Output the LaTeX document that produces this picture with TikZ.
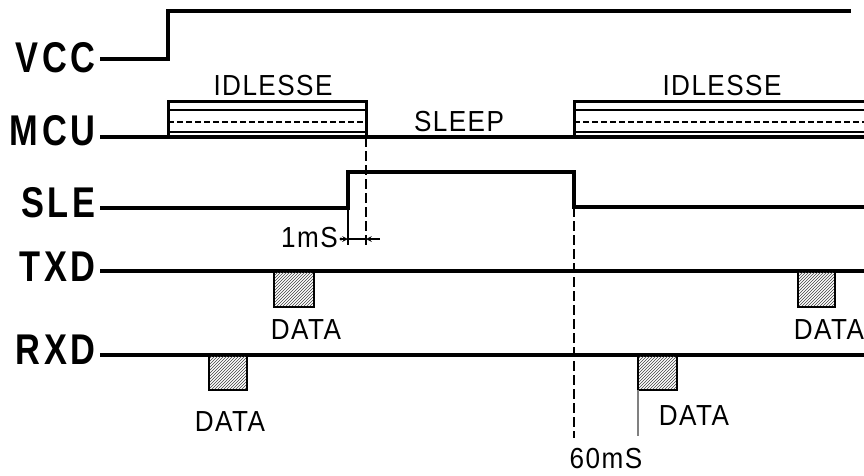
\documentclass[tikz,border=0pt]{standalone}
\usepackage{fontspec}
\setmainfont{Liberation Sans}
\newfontfamily\lblfont[FakeStretch=0.8,LetterSpace=9]{Liberation Sans}
\newfontfamily\txtfont[FakeStretch=0.9,LetterSpace=5]{Liberation Sans}
\usetikzlibrary{arrows,calc,patterns,positioning}
\tikzset{
    signame/.style={anchor=east,inner ysep=0pt,inner xsep=4pt,font=\lblfont\bfseries\fontsize{43}{43}\selectfont},
    txt/.style={inner sep=0pt,font=\txtfont\fontsize{29}{29}\selectfont},
    sig/.style={line width=3.2pt,line join=miter},
    idlebox/.style={line width=3pt},
    inner/.style={line width=1.5pt},
    databox/.style={line width=2.8pt,pattern=north east lines,pattern color=black!75},
    timemark/.style={line width=1.4pt,dash pattern=on 10pt off 4pt}
}

\begin{document}
\begin{tikzpicture}[x=1pt,y=-1pt]
    \useasboundingbox (0,0) rectangle (864,475);

    % signal names
    \node[signame] (vcc) at (100,58) {VCC};
    \node[signame] (mcu) at (100,131) {MCU};
    \node[signame] (sle) at (100,203) {SLE};
    \node[signame] (txd) at (100,267) {TXD};
    \node[signame] (rxd) at (100,350) {RXD};

    % VCC
    \coordinate (vccup) at (168,59);
    \draw[sig] (vcc.east |- vccup) -- (vccup) -- (168,11) -- (851,11);

    % MCU
    \coordinate (mcuA) at (168,137);
    \coordinate (mcuB) at (366,137);
    \coordinate (mcuC) at (574,137);
    \draw[sig] (mcu.east |- mcuA) -- (mcuA) -- (870,137);
    \draw[idlebox] (mcuA) rectangle (366,101);
    \draw[idlebox] (mcuC) -- (574,101) -- (870,101);
    \foreach \xa/\xb in {168/366, 574/870} {
        \draw[inner] (\xa,110) -- (\xb,110);
        \draw[inner] (\xa,132) -- (\xb,132);
        \draw[inner,dash pattern=on 6pt off 3pt] (\xa,122) -- (\xb,122);
    }
    \node[txt] (idle1) at (273,86) {IDLESSE};
    \node[txt] (sleep) at (459,122) {SLEEP};
    \node[txt] (idle2) at (722,86) {IDLESSE};

    % SLE
    \coordinate (sleup) at (348,208);
    \coordinate (sledn) at (574,172);
    \draw[sig] (sle.east |- sleup) -- (sleup) -- (348,172) -- (sledn) -- (574,207) -- (870,207);

    % 1mS delay
    \draw[timemark] (mcuB) -- (366,245);
    \draw[inner] (sleup) -- (348,245);
    \node[txt,anchor=east] (onems) at (338,238) {1mS};
    \fill (onems.east) ++(3,1) circle [radius=1.6pt];
    \draw[inner,-stealth] (onems.east) ++(3,1) -- (348,239);
    \draw[inner] (348,239) -- (366,239);
    \draw[inner,stealth-] (366,239) -- (380,239);

    % TXD
    \draw[sig] (txd.east |- 0,271) -- (870,271);
    \draw[databox] (274,271) rectangle (314,307);
    \draw[databox] (798,271) rectangle (835,307);
    \node[txt] (tdata1) at (306,330) {DATA};
    \node[txt] (tdata2) at (829,330) {DATA};

    % RXD
    \draw[sig] (rxd.east |- 0,355) -- (870,355);
    \draw[databox] (209,355) rectangle (247,390);
    \draw[databox] (638,355) rectangle (677,390);
    \node[txt] (rdata1) at (230,422) {DATA};
    \node[txt] (rdata2) at (694,416) {DATA};
    \draw[inner,gray] (638,390) -- (638,436);

    % 60mS
    \draw[timemark] (574,207) -- (574,438);
    \node[txt] (sixty) at (606,459) {60mS};
\end{tikzpicture}
\end{document}
